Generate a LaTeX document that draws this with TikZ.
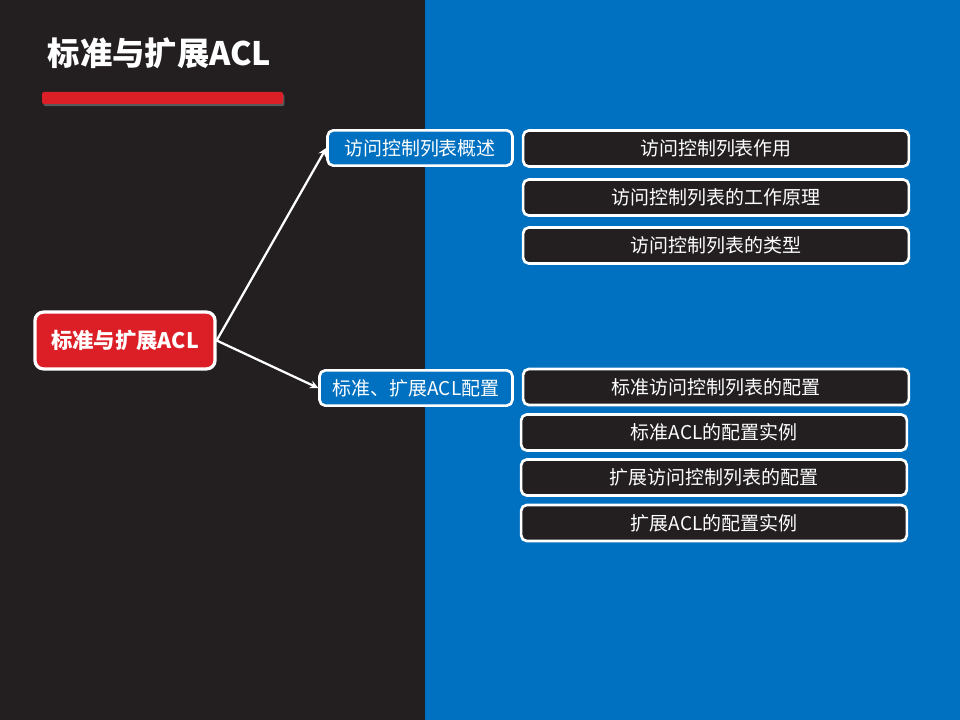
\documentclass[tikz,border=0pt]{standalone}
\usepackage{fontspec}
\setmainfont{Noto Sans CJK SC}
\definecolor{darkbg}{HTML}{231F20}
\definecolor{bluebg}{HTML}{0070C0}
\definecolor{aclred}{HTML}{DC1F26}
\usetikzlibrary{shadows}

\begin{document}
\begin{tikzpicture}[x=0.025cm,y=-0.025cm,line cap=round,line join=round,>=stealth,
  every node/.style={inner sep=1pt,text=white},
  box/.style={draw=white,line width=1.9pt,rounded corners=4pt,font=\fontsize{13.5}{15}\selectfont},
  topic/.style={box,fill=bluebg,minimum height=0.88cm},
  item/.style={box,fill=darkbg,minimum width=9.64cm,minimum height=0.9cm}]
  \useasboundingbox (0,0) rectangle (960,720);
  \fill[darkbg] (0,0) rectangle (425,720);
  \fill[bluebg] (425,0) rectangle (960,720);
  \node[anchor=west,font=\fontsize{23}{26}\bfseries\selectfont] (title) at (46,53) {标准与扩展ACL};
  \fill[aclred,rounded corners=1.5pt,drop shadow={opacity=0.6,shadow xshift=1pt,shadow yshift=-1.5pt}] (42,92) rectangle (283,104);
  % main node
  \node[box,fill=aclred,line width=2.3pt,minimum width=4.5cm,minimum height=1.42cm,rounded corners=6pt,font=\fontsize{15.2}{17}\bfseries\selectfont] (acl) at (125,340.5) {标准与扩展ACL};
  % topics
  \node[topic,minimum width=4.62cm] (intro) at (420,148) {访问控制列表概述};
  \node[topic,minimum width=4.82cm] (conf) at (416,388) {标准、扩展ACL配置};
  \draw[->,white,line width=1.6pt] (acl.east) -- (intro.west);
  \draw[->,white,line width=1.6pt] (acl.east) -- (conf.west);
  % items
  \node[item] (use) at (716,148.5) {访问控制列表作用};
  \node[item] (work) at (716,197.5) {访问控制列表的工作原理};
  \node[item] (kind) at (716,245.5) {访问控制列表的类型};
  \node[item] (stdcfg) at (716,387) {标准访问控制列表的配置};
  \node[item] (stdex) at (714,432.5) {标准ACL的配置实例};
  \node[item] (extcfg) at (714,477.5) {扩展访问控制列表的配置};
  \node[item] (extex) at (714,523) {扩展ACL的配置实例};
\end{tikzpicture}
\end{document}
